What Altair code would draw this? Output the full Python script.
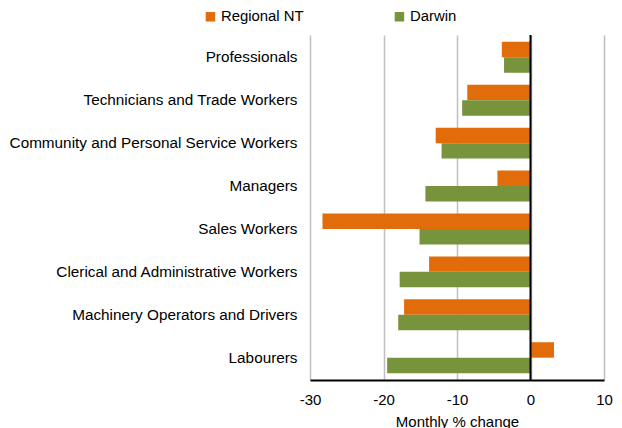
import altair as alt
import pandas as pd

categories = [
    "Professionals",
    "Technicians and Trade Workers",
    "Community and Personal Service Workers",
    "Managers",
    "Sales Workers",
    "Clerical and Administrative Workers",
    "Machinery Operators and Drivers",
    "Labourers",
]
regional_nt = [-3.9, -8.6, -12.9, -4.5, -28.3, -13.8, -17.2, 3.2]
darwin = [-3.6, -9.3, -12.1, -14.3, -15.1, -17.8, -18.0, -19.5]
series = ["Regional NT", "Darwin"]
colors = ["#E36C0A", "#77933C"]
x_ticks = [-30, -20, -10, 0, 10]

rows = []
for c, r, d in zip(categories, regional_nt, darwin):
    rows.append({"Occupation": c, "Series": "Regional NT", "Value": r})
    rows.append({"Occupation": c, "Series": "Darwin", "Value": d})
df = pd.DataFrame(rows)

FONT = "Liberation Sans"

bars = alt.Chart(df).mark_bar().encode(
    y=alt.Y(
        "Occupation:N",
        sort=categories,
        scale=alt.Scale(paddingInner=0.28, paddingOuter=0.16),
        axis=alt.Axis(
            title=None, ticks=False, domain=False, labelPadding=13,
            labelFontSize=15.3, labelColor="#000000", labelFont=FONT,
            labelLimit=400,
        ),
    ),
    yOffset=alt.YOffset("Series:N", sort=series, scale=alt.Scale(paddingInner=0)),
    x=alt.X(
        "Value:Q",
        scale=alt.Scale(domain=[-30, 10], nice=False),
        axis=alt.Axis(
            values=x_ticks, title="Monthly % change", ticks=False,
            labelExpr="toString(datum.value)", labelFlush=False,
            domainColor="#000000", domainWidth=2, gridColor="#BFBFBF",
            gridWidth=1.5, labelFontSize=15, labelColor="#000000",
            labelFont=FONT, labelPadding=12, titleFont=FONT,
            titleFontSize=15, titleFontWeight="normal", titleColor="#000000",
            titlePadding=7,
        ),
    ),
    color=alt.Color(
        "Series:N",
        sort=series,
        scale=alt.Scale(domain=series, range=colors),
        legend=alt.Legend(
            title=None, orient="none", direction="horizontal",
            legendX=-107, legendY=-26, symbolType="square", symbolSize=90,
            symbolStrokeWidth=0, labelFontSize=14.9, labelFont=FONT,
            labelColor="#000000", columnPadding=88, labelOffset=3,
        ),
    ),
)

zero = alt.Chart(pd.DataFrame({"z": [0]})).mark_rule(
    color="#000000", strokeWidth=2
).encode(x="z:Q")

chart = alt.layer(bars, zero).properties(
    width=294, height=345,
    autosize=alt.AutoSizeParams(type="none"),
    padding={"left": 302, "top": 27, "right": 10, "bottom": 50},
).configure_view(stroke=None).configure_axis(gridOpacity=1)

chart.save("out.html", embed_options={"renderer": "svg", "actions": False})
